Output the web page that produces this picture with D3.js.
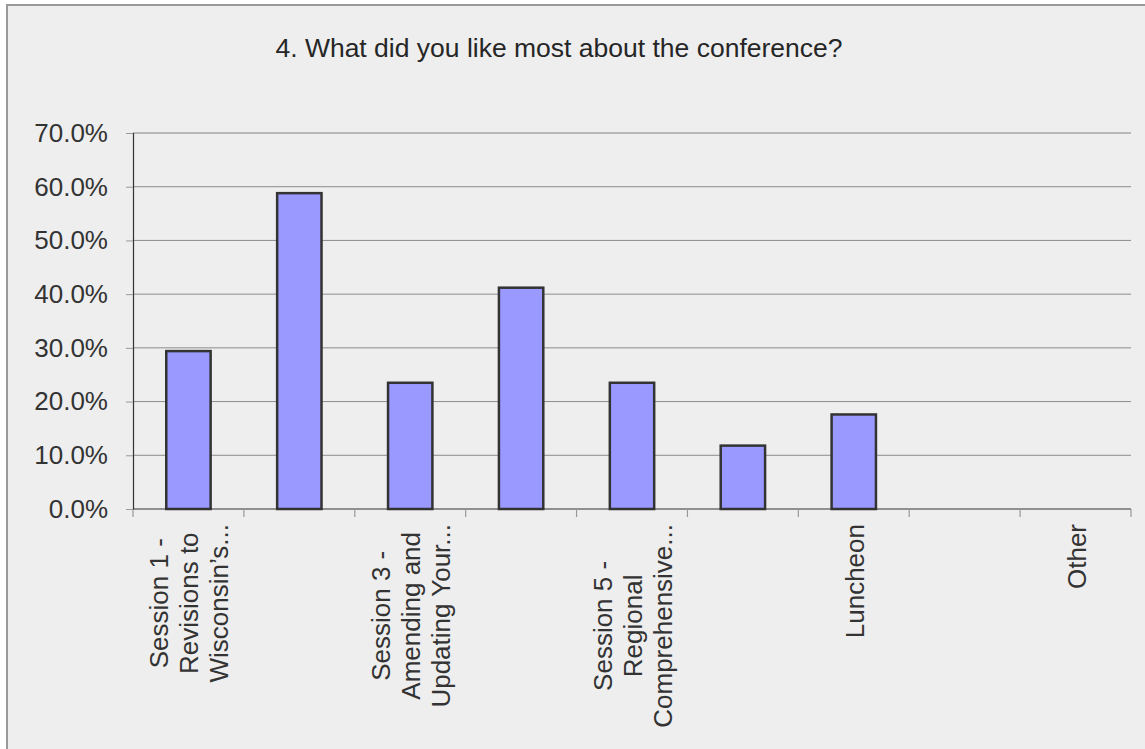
<!DOCTYPE html>
<html>
<head>
<meta charset="utf-8">
<script src="https://cdn.jsdelivr.net/npm/d3@7"></script>
<style>
  body { margin: 0; background: #ffffff; }
  text { font-family: "Liberation Sans", Arial, sans-serif; fill: #333333; }
</style>
</head>
<body>
<script>
var title = '4. What did you like most about the conference?';

// every other category label is skipped on the axis, as in the source chart
var categories = [
  'Session 1 - Revisions to Wisconsin\u2019s...',
  'Session 2',
  'Session 3 - Amending and Updating Your...',
  'Session 4',
  'Session 5 - Regional Comprehensive...',
  'Session 6',
  'Luncheon',
  'Session 7',
  'Other'
];
var labelLines = [
  ['Session 1 -', 'Revisions to', 'Wisconsin\u2019s...'],
  [],
  ['Session 3 -', 'Amending and', 'Updating Your...'],
  [],
  ['Session 5 -', 'Regional', 'Comprehensive...'],
  [],
  ['Luncheon'],
  [],
  ['Other']
];
var values = [29.4, 58.8, 23.5, 41.2, 23.5, 11.8, 17.6, 0, 0];
var yTicks = [0, 10, 20, 30, 40, 50, 60, 70];

var width = 1145, height = 749;
var plotLeft = 133, plotRight = 1131, plotTop = 133, plotBottom = 509;

var svg = d3.select('body').append('svg')
  .attr('width', width).attr('height', height);

// chart frame
svg.append('rect')
  .attr('x', 7).attr('y', 5)
  .attr('width', width + 20).attr('height', height + 20)
  .attr('fill', '#eeeeee')
  .attr('stroke', '#999999').attr('stroke-width', 2);

svg.append('text')
  .attr('x', 559).attr('y', 57)
  .attr('text-anchor', 'middle')
  .style('font-size', '26.5px')
  .style('fill', '#262626')
  .text(title);

var x = d3.scaleBand()
  .domain(categories)
  .range([plotLeft, plotRight])
  .paddingInner(0.6)
  .paddingOuter(0.3);

var y = d3.scaleLinear().domain([0, 70]).range([plotBottom, plotTop]);

// gridlines
svg.append('g').selectAll('line')
  .data(yTicks.filter(function(d) { return d > 0; }))
  .enter().append('line')
  .attr('x1', plotLeft).attr('x2', plotRight)
  .attr('y1', function(d) { return y(d); })
  .attr('y2', function(d) { return y(d); })
  .attr('stroke', function(d) { return d == 70 ? '#a6a6a6' : '#8c8c8c'; })
  .attr('stroke-width', function(d) { return d == 70 ? 1.5 : 1; });

// y axis
var yAxis = d3.axisLeft(y)
  .tickValues(yTicks)
  .tickSize(7)
  .tickPadding(18)
  .tickFormat(function(d) { return d.toFixed(1) + '%'; });
var gy = svg.append('g').attr('transform', 'translate(' + plotLeft + ',0)').call(yAxis);
gy.select('.domain').attr('stroke', '#333333').attr('stroke-width', 1.2);
gy.selectAll('.tick line').attr('stroke', '#999999');
gy.selectAll('.tick text')
  .style('font-size', '26px')
  .style('font-family', '"Liberation Sans", Arial, sans-serif')
  .attr('fill', '#333333');

// bars
svg.append('g').selectAll('rect')
  .data(values)
  .enter().append('rect')
  .attr('x', function(d, i) { return x(categories[i]); })
  .attr('width', x.bandwidth())
  .attr('y', function(d) { return y(d); })
  .attr('height', function(d) { return y(0) - y(d); })
  .attr('fill', '#9999ff')
  .attr('stroke', '#333333')
  .attr('stroke-width', 2.5)
  .style('display', function(d) { return d > 0 ? null : 'none'; });

// x axis line and boundary ticks
svg.append('line')
  .attr('x1', plotLeft).attr('x2', plotRight)
  .attr('y1', plotBottom).attr('y2', plotBottom)
  .attr('stroke', '#333333').attr('stroke-width', 1.2);

var step = x.step();
var bounds = d3.range(categories.length + 1);
svg.append('g').selectAll('line')
  .data(bounds)
  .enter().append('line')
  .attr('x1', function(d) { return plotLeft + d * step; })
  .attr('x2', function(d) { return plotLeft + d * step; })
  .attr('y1', plotBottom).attr('y2', plotBottom + 8)
  .attr('stroke', '#999999').attr('stroke-width', 1.2);

// rotated category labels
var labelTop = 524;
var lineGap = 30;
labelLines.forEach(function(lines, i) {
  if (!lines.length) return;
  var cx = x(categories[i]) + x.bandwidth() / 2;
  var g = svg.append('g');
  var texts = lines.map(function(s) {
    return g.append('text')
      .attr('text-anchor', 'middle')
      .style('font-size', '26px')
      .text(s);
  });
  var maxW = d3.max(texts, function(t) { return t.node().getComputedTextLength(); });
  texts.forEach(function(t, k) {
    var bx = cx + 10 + (k - (lines.length - 1) / 2) * lineGap;
    var by = labelTop + maxW / 2;
    t.attr('transform', 'translate(' + bx + ',' + by + ') rotate(-90)');
  });
});
</script>
</body>
</html>
